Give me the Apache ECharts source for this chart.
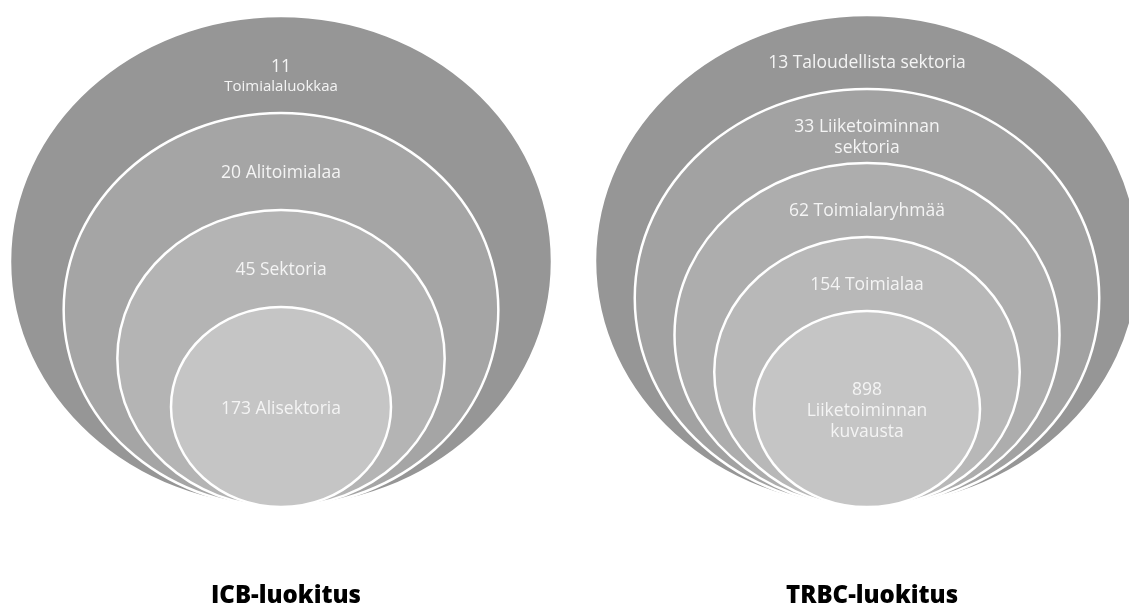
<!DOCTYPE html>
<html>
<head>
<meta charset="utf-8">
<script src="https://cdn.jsdelivr.net/npm/echarts@6/dist/echarts.min.js"></script>
<style>
html,body{margin:0;padding:0;background:#fff;}
#main{width:1129px;height:612px;}
</style>
</head>
<body>
<div id="main"></div>
<script>
// ---- data ----
const icbTitle = 'ICB-luokitus';
const icbLabels = ['11\n{s|Toimialaluokkaa}', '20 Alitoimialaa', '45 Sektoria', '173 Alisektoria'];
const icbCounts = [11, 20, 45, 173];
const trbcTitle = 'TRBC-luokitus';
const trbcLabels = ['13 Taloudellista sektoria', '33 Liiketoiminnan\nsektoria', '62 Toimialaryhmää', '154 Toimialaa', '898\nLiiketoiminnan\nkuvausta'];
const trbcCounts = [13, 33, 62, 154, 898];

// ---- layout (not data) ----
const groups = [
  {cx: 281, bottom: 507, rx0: 271, rx1: 110, ry0: 245.5, ry1: 100, frac: 0.62,
   colors: ['#969696', '#a5a5a5', '#b4b4b4', '#c5c5c5']},
  {cx: 867, bottom: 507, rx0: 272, rx1: 113, ry0: 246, ry1: 98, frac: 0.65,
   colors: ['#969696', '#a2a2a2', '#adadad', '#b8b8b8', '#c5c5c5']}
];
const sets = [[icbLabels, icbCounts], [trbcLabels, trbcCounts]];

const items = [];
sets.forEach(function (s, g) {
  const n = s[1].length;
  s[1].forEach(function (c, i) {
    items.push({value: [g, i, n, c], label: s[0][i]});
  });
});

function geom(g, i, n) {
  const G = groups[g];
  const t = n > 1 ? i / (n - 1) : 0;
  const rx = G.rx0 + (G.rx1 - G.rx0) * t;
  const ry = G.ry0 + (G.ry1 - G.ry0) * t;
  return {cx: G.cx, cy: G.bottom - ry, rx: rx, ry: ry, top: G.bottom - 2 * ry};
}

const chart = echarts.init(document.getElementById('main'), null, {renderer: 'canvas'});
chart.setOption({
  backgroundColor: '#ffffff',
  animation: false,
  grid: {left: 0, right: 0, top: 0, bottom: 0},
  xAxis: {type: 'value', min: 0, max: 1129, show: false},
  yAxis: {type: 'value', min: 0, max: 612, inverse: true, show: false},
  title: [
    {text: icbTitle, left: groups[0].cx, top: 579, textAlign: 'center',
     textStyle: {fontFamily: 'Open Sans', fontWeight: 800, fontSize: 24, color: '#000'}},
    {text: trbcTitle, left: groups[1].cx, top: 579, textAlign: 'center',
     textStyle: {fontFamily: 'Open Sans', fontWeight: 800, fontSize: 24, color: '#000'}}
  ],
  series: [{
    type: 'custom',
    coordinateSystem: 'cartesian2d',
    data: items,
    renderItem: function (params, api) {
      const g = api.value(0), i = api.value(1), n = api.value(2);
      const e = geom(g, i, n);
      const c = api.coord([e.cx, e.cy]);
      const sz = api.size([e.rx, e.ry]);
      let ly;
      if (i === n - 1) {
        ly = e.cy + 2;
      } else {
        const nx = geom(g, i + 1, n);
        ly = e.top + groups[g].frac * (nx.top - e.top);
      }
      const lp = api.coord([e.cx, ly]);
      return {
        type: 'group',
        children: [
          {type: 'ellipse', shape: {cx: c[0], cy: c[1], rx: sz[0], ry: sz[1]},
           style: {fill: groups[g].colors[i], stroke: '#ffffff', lineWidth: 2.5}},
          {type: 'text', x: lp[0], y: lp[1],
           style: {text: items[params.dataIndex].label, fill: '#f4f4f4',
             font: '17.5px "Open Sans"', align: 'center', verticalAlign: 'middle',
             lineHeight: 21,
             rich: {s: {fontSize: 15, fontFamily: 'Open Sans', fill: '#f4f4f4', lineHeight: 19}}}}
        ]
      };
    }
  }]
});
</script>
</body>
</html>
